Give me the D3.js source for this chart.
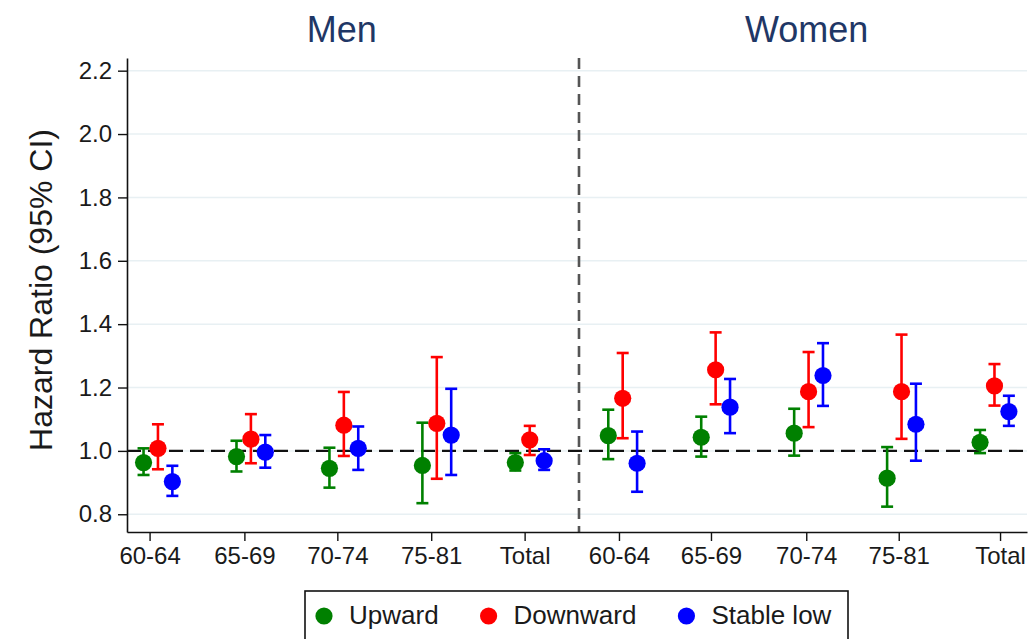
<!DOCTYPE html>
<html>
<head>
<meta charset="utf-8">
<script src="https://cdn.jsdelivr.net/npm/d3@7"></script>
<style>
  html, body { margin: 0; padding: 0; background: #ffffff; }
  svg { display: block; font-family: "Liberation Sans", Arial, Helvetica, sans-serif; }
</style>
</head>
<body>
<svg id="chart" width="1030" height="639"></svg>
<script>
// Panels and age groups along the x axis (Men first, then Women)
const panels = ["Men", "Women"];
const ageGroups = ["60-64", "65-69", "70-74", "75-81", "Total"];
const categories = ["60-64", "65-69", "70-74", "75-81", "Total",
                    "60-64", "65-69", "70-74", "75-81", "Total"];

// Tick label positions along the category axis (category units)
const tickPositions = [-0.09, 0.93, 1.93, 2.94, 3.945, 4.96, 5.95, 6.975, 7.97, 9.06];
const tickLabels = categories;

// Hazard ratios with 95% confidence limits, one entry per category
const upwardHR  = [0.963, 0.982, 0.945, 0.954, 0.963, 1.048, 1.043, 1.056, 0.914, 1.027];
const upwardLo  = [0.924, 0.935, 0.884, 0.835, 0.938, 0.974, 0.982, 0.985, 0.824, 0.993];
const upwardHi  = [1.008, 1.032, 1.010, 1.089, 0.993, 1.130, 1.108, 1.133, 1.012, 1.066];

const downwardHR = [1.008, 1.037, 1.081, 1.087, 1.035, 1.166, 1.256, 1.187, 1.187, 1.205];
const downwardLo = [0.942, 0.961, 0.984, 0.912, 0.987, 1.040, 1.147, 1.075, 1.038, 1.143];
const downwardHi = [1.084, 1.116, 1.186, 1.296, 1.079, 1.309, 1.374, 1.312, 1.367, 1.274];

const stableHR = [0.903, 0.996, 1.008, 1.050, 0.969, 0.961, 1.138, 1.238, 1.084, 1.124];
const stableLo = [0.858, 0.947, 0.940, 0.924, 0.940, 0.871, 1.056, 1.142, 0.969, 1.079];
const stableHi = [0.953, 1.050, 1.077, 1.196, 1.005, 1.061, 1.227, 1.340, 1.212, 1.174];

const seriesNames = ["Upward", "Downward", "Stable low"];
const seriesColors = ["#008000", "#ff0000", "#0000ff"];
const seriesOffsets = [-0.155, 0, 0.155];

const yTicks = [0.8, 1.0, 1.2, 1.4, 1.6, 1.8, 2.0, 2.2];
const referenceHR = 1.0;
const panelDivider = 4.53;

const series = [
  { hr: upwardHR, lo: upwardLo, hi: upwardHi },
  { hr: downwardHR, lo: downwardLo, hi: downwardHi },
  { hr: stableHR, lo: stableLo, hi: stableHi }
];

const svg = d3.select("#chart");

const plot = { left: 127, right: 1027, top: 58, bottom: 532 };

const x = d3.scaleLinear().domain([-0.333, 9.35]).range([plot.left, plot.right]);
const y = d3.scaleLinear().domain([0.744, 2.24]).range([plot.bottom, plot.top]);

// Light horizontal grid lines
svg.append("g")
  .selectAll("line")
  .data(yTicks)
  .join("line")
  .attr("x1", plot.left).attr("x2", plot.right)
  .attr("y1", d => y(d)).attr("y2", d => y(d))
  .attr("stroke", "#e8f0f3")
  .attr("stroke-width", 1.5);

// Reference line at HR = 1
svg.append("line")
  .attr("x1", plot.left).attr("x2", plot.right)
  .attr("y1", y(referenceHR)).attr("y2", y(referenceHR))
  .attr("stroke", "#111")
  .attr("stroke-width", 2.2)
  .attr("stroke-dasharray", "14,7");

// Divider between the Men and Women panels
svg.append("line")
  .attr("x1", x(panelDivider)).attr("x2", x(panelDivider))
  .attr("y1", plot.top).attr("y2", plot.bottom)
  .attr("stroke", "#555")
  .attr("stroke-width", 2.6)
  .attr("stroke-dasharray", "11,7");

// Axes
const yAxis = d3.axisLeft(y)
  .tickValues(yTicks)
  .tickFormat(d3.format(".1f"))
  .tickSize(9)
  .tickSizeOuter(0)
  .tickPadding(6);

const xAxis = d3.axisBottom(x)
  .tickValues(tickPositions)
  .tickFormat((d, i) => tickLabels[i])
  .tickSize(9)
  .tickSizeOuter(0)
  .tickPadding(6);

const gy = svg.append("g")
  .attr("transform", `translate(${plot.left},0)`)
  .call(yAxis);

const gx = svg.append("g")
  .attr("transform", `translate(0,${plot.bottom})`)
  .call(xAxis);

[gy, gx].forEach(g => {
  g.select(".domain").attr("stroke", "#111").attr("stroke-width", 1.6);
  g.selectAll(".tick line").attr("stroke", "#111").attr("stroke-width", 1.4);
  g.selectAll(".tick text")
    .attr("fill", "#1a1a1a")
    .style("font-size", "24px")
    .style("font-family", "'Liberation Sans', Arial, sans-serif");
});

// Y axis title
svg.append("text")
  .attr("transform", `translate(52,${(plot.top + plot.bottom) / 2 - 5}) rotate(-90)`)
  .attr("text-anchor", "middle")
  .attr("fill", "#1a1a1a")
  .style("font-size", "32px")
  .text("Hazard Ratio (95% CI)");

// Panel titles centred over each panel's middle age group
panels.forEach((p, k) => {
  svg.append("text")
    .attr("x", x(k * ageGroups.length + 2) - 2)
    .attr("y", 42)
    .attr("text-anchor", "middle")
    .attr("fill", "#1f3766")
    .style("font-size", "36px")
    .text(p);
});

// Error bars with caps, then the point estimates
const capHalf = 6;
series.forEach((s, si) => {
  const g = svg.append("g");
  const color = seriesColors[si];
  const idx = d3.range(categories.length);
  const cx = i => x(i + seriesOffsets[si]);

  g.selectAll("line.ci")
    .data(idx)
    .join("line")
    .attr("class", "ci")
    .attr("x1", cx).attr("x2", cx)
    .attr("y1", i => y(s.lo[i])).attr("y2", i => y(s.hi[i]))
    .attr("stroke", color).attr("stroke-width", 2.6);

  ["lo", "hi"].forEach(key => {
    g.selectAll(`line.cap-${key}`)
      .data(idx)
      .join("line")
      .attr("class", `cap-${key}`)
      .attr("x1", i => cx(i) - capHalf).attr("x2", i => cx(i) + capHalf)
      .attr("y1", i => y(s[key][i])).attr("y2", i => y(s[key][i]))
      .attr("stroke", color).attr("stroke-width", 2.6);
  });

  g.selectAll("circle")
    .data(idx)
    .join("circle")
    .attr("cx", cx)
    .attr("cy", i => y(s.hr[i]))
    .attr("r", 8.6)
    .attr("fill", color);
});

// Legend box along the bottom edge
const legend = svg.append("g");
legend.append("rect")
  .attr("x", 305).attr("y", 591)
  .attr("width", 543).attr("height", 70)
  .attr("fill", "#fff")
  .attr("stroke", "#111")
  .attr("stroke-width", 1.6);

let lx = 324;
seriesNames.forEach((name, i) => {
  legend.append("circle")
    .attr("cx", lx).attr("cy", 616)
    .attr("r", 8.6)
    .attr("fill", seriesColors[i]);
  const t = legend.append("text")
    .attr("x", lx + 25).attr("y", 624)
    .attr("fill", "#1a1a1a")
    .style("font-size", "26px")
    .text(name);
  lx = lx + 25 + t.node().getComputedTextLength() + 50;
});
</script>
</body>
</html>
